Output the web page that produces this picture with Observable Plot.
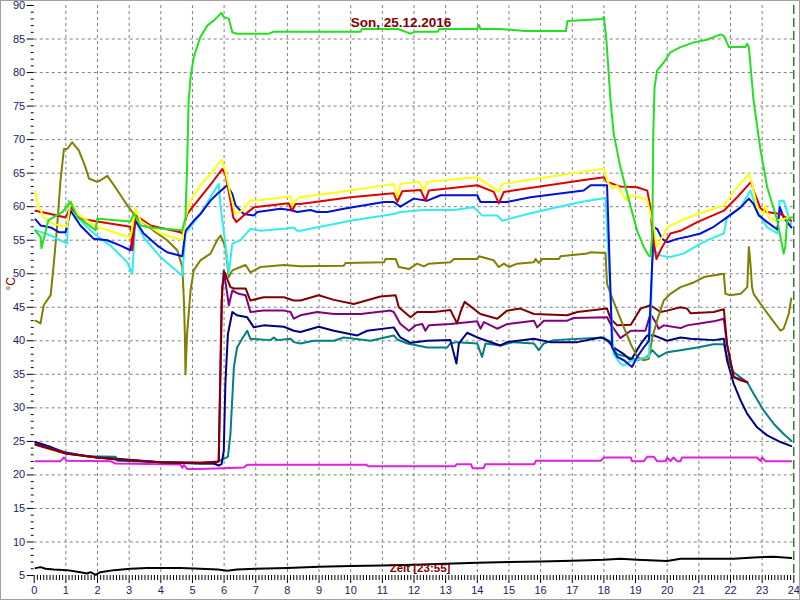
<!DOCTYPE html>
<html>
<head>
<meta charset="utf-8">
<script src="https://cdn.jsdelivr.net/npm/d3@7"></script>
<script src="https://cdn.jsdelivr.net/npm/@observablehq/plot@0.6"></script>
<style>
  html, body { margin: 0; padding: 0; background: #ffffff; }
  #wrap { position: relative; width: 800px; height: 600px; overflow: hidden; }
  #wrap svg { display: block; }
  #edge { position: absolute; left: 0; top: 0; width: 798px; height: 598px; border: 1px solid #a0a0a0; pointer-events: none; }
</style>
</head>
<body>
<div id="wrap"><div id="edge"></div></div>
<script>
// ---- text ----
const title = "Son, 25.12.2016";
const timeLabel = "Zeit [23:55]";
const unitLabel = "°C";

// ---- axis ticks ----
const hourTicks = d3.range(0, 25);
const tempTicks = d3.range(5, 91, 5);
const gridHours = d3.range(1, 24);
const gridTemps = d3.range(10, 90, 5);

// ---- series: [hour, °C] ----
const green = [[0.04,56.4],[0.2,55.5],[0.23,53.8],[0.45,58],[0.89,59.2],[1.15,60.7],[1.36,58.5],[1.94,56.5],[1.99,58.2],[3.04,57.8],[3.15,59],[3.36,57.2],[3.67,56.9],[4.68,56.5],[4.78,58.4],[4.83,65.9],[4.88,75.8],[4.94,79.3],[5.04,82.3],[5.25,85.3],[5.47,87],[5.73,88],[5.91,88.9],[5.99,88.3],[6.15,88],[6.26,86],[6.41,85.8],[7.41,85.8],[7.57,86.1],[10.31,86.1],[10.36,86.5],[11.5,86.5],[11.89,85.8],[12.05,86.1],[12.75,86.1],[12.8,86.5],[14.0,86.5],[14.05,87.1],[14.1,86.5],[14.73,86.5],[15.5,86.2],[16.8,86.2],[16.85,87.7],[17.95,88],[18.0,88.3],[18.08,84.8],[18.21,75.8],[18.31,70.9],[18.52,65.9],[18.74,61.9],[18.85,59.9],[19.05,56.4],[19.26,54],[19.42,52.7],[19.47,52.6],[19.53,56],[19.56,70.9],[19.6,77.8],[19.68,80.3],[19.89,81.5],[20.1,83],[20.42,83.8],[20.84,84.5],[21.26,84.9],[21.68,85.7],[21.79,85.5],[21.95,83.8],[22.47,83.8],[22.53,84.3],[22.58,83.8],[22.73,75.8],[22.95,68.4],[23.16,62.9],[23.48,57.9],[23.68,53],[23.73,54],[23.79,57.9],[23.9,58.4],[23.95,58.4]];

const yellow = [[0.04,62.2],[0.09,60.7],[0.3,58.4],[0.62,57.4],[1.04,57],[1.15,60.9],[1.36,58.9],[1.99,57],[3.04,55.4],[3.2,59.8],[3.36,57.9],[3.99,56],[4.68,55],[4.78,58.4],[4.94,60.9],[5.25,63.2],[5.67,65.4],[5.92,67],[6.01,65.9],[6.2,61.9],[6.36,58.9],[6.57,59.4],[6.83,60.9],[7.15,61],[7.89,61.4],[8.1,61.5],[8.15,60.2],[8.26,60.9],[8.41,61.4],[9.99,62.4],[11.36,63.4],[11.47,61.4],[11.57,63.4],[12.15,63.7],[12.31,62.4],[12.42,63.7],[13.15,64],[14.0,64.4],[14.31,63.4],[14.68,62.2],[14.79,63.4],[17.9,65.6],[18.0,65.6],[18.1,63.9],[18.26,62.7],[18.42,63.2],[18.58,61.9],[18.74,60.9],[18.85,61.7],[19.26,61.2],[19.37,60.9],[19.47,58.9],[19.58,56.9],[19.68,54],[19.79,55],[20.0,56.9],[20.42,57.9],[20.95,58.9],[21.47,59.7],[21.79,60.2],[22.21,62.9],[22.58,64.9],[22.68,63.4],[22.84,59.9],[23.05,58.9],[23.1,60.2],[23.21,58.4],[23.42,57.9],[23.7,58.2],[23.92,58.4]];

const red = [[0.04,59.4],[0.52,58.9],[0.99,58.4],[1.15,59.9],[1.46,58.2],[2.09,57.7],[3.04,57],[3.1,53.5],[3.2,58.7],[3.67,57.2],[4.62,56.2],[4.68,56],[4.83,58.9],[5.25,61.4],[5.67,63.9],[5.94,65.6],[6.04,64.9],[6.2,60.9],[6.29,58.4],[6.39,57.7],[6.62,58.7],[6.94,59.9],[8.04,60.5],[8.15,59.4],[8.26,60.4],[8.41,60.4],[9.99,61.4],[11.36,62],[11.47,60.7],[11.63,62.3],[12.21,62.5],[12.36,60.9],[12.47,62.4],[14.0,63.2],[14.52,62.2],[14.68,60.5],[14.84,62.2],[17.26,63.9],[18.0,64.4],[18.1,63.7],[18.52,63],[19.05,62.9],[19.37,62.4],[19.47,59.9],[19.53,56],[19.66,52.2],[19.84,54],[20.1,56],[20.42,56.4],[20.95,57.7],[21.79,59.4],[22.21,61.4],[22.65,63.7],[22.73,62.4],[22.95,59.7],[23.16,59.2],[23.58,58.9],[23.92,57.9]];

const blue = [[0.04,58.1],[0.2,57.2],[0.52,56.9],[0.78,56.2],[0.99,56.2],[1.15,59.4],[1.46,57.2],[1.88,55.2],[2.31,55],[2.73,54.2],[3.04,53.5],[3.2,57.9],[3.46,56],[3.89,54.2],[4.2,53.2],[4.68,52.6],[4.78,56.4],[5.04,57.9],[5.25,58.9],[5.57,60.9],[5.78,61.9],[6.1,63.2],[6.26,61.9],[6.36,60.2],[6.62,58.9],[6.94,58.7],[7.05,59.2],[7.78,59.7],[8.1,59.5],[8.31,59.2],[8.73,59.5],[8.94,59.2],[9.26,59.2],[9.78,59.7],[11.05,60.7],[11.36,60.7],[11.57,60],[11.99,61.2],[12.42,60.9],[12.84,61.7],[14.0,61.7],[14.1,60.7],[14.94,60.7],[15.68,61.4],[17.36,62.4],[17.58,63.2],[18.1,63.2],[18.15,56],[18.21,47],[18.26,39],[18.42,37.6],[18.63,37.1],[18.89,36.1],[19.05,37.6],[19.26,39],[19.42,40],[19.53,52],[19.58,56.9],[19.68,56.7],[19.84,55.2],[20.0,54.7],[20.32,55.2],[20.63,55.5],[21.05,56],[21.47,57],[21.89,58.4],[22.32,59.9],[22.58,61.2],[22.73,60.4],[22.89,58.7],[23.16,57.7],[23.48,56.6],[23.56,59.9],[23.68,58.4],[23.92,56.9]];

const cyan = [[0.04,56.5],[0.52,55.7],[1.04,54.5],[1.09,60.9],[1.36,58.4],[1.88,56],[2.41,54.2],[2.94,51.7],[3.1,50],[3.2,57.9],[3.46,55.4],[3.99,52.5],[4.68,49.7],[4.78,56],[5.25,58.9],[5.83,63.4],[5.89,59.9],[6.04,54.5],[6.15,50],[6.26,54.5],[6.52,55],[6.83,56.7],[7.15,56.4],[7.89,56.7],[8.2,56.9],[8.31,56.4],[8.41,56.4],[9.99,57.9],[11.36,58.9],[11.57,59.2],[12.31,59.5],[13.26,59.5],[13.89,59.9],[14.15,58.7],[14.63,58.7],[14.79,57.9],[15.58,58.9],[17.26,60.7],[18.05,61.3],[18.15,52],[18.26,42],[18.31,38],[18.52,36.6],[18.63,36.3],[18.85,37],[19.16,37.3],[19.42,37.6],[19.47,42],[19.53,52],[19.58,53.5],[19.79,52.7],[20.1,52.5],[20.52,53],[21.05,54.5],[21.37,55.2],[21.79,56],[21.89,58.4],[22.32,59.9],[22.63,62.4],[22.84,59.4],[23.16,56.9],[23.48,56],[23.55,60.9],[23.68,60.9],[23.84,58.4],[23.92,57.4]];

const olive = [[0.04,43],[0.2,42.6],[0.3,45.3],[0.52,46.8],[0.62,51.5],[0.73,57.4],[0.83,63.9],[0.94,68.6],[1.04,68.6],[1.2,69.6],[1.41,68.4],[1.62,65.9],[1.73,64.2],[1.99,63.7],[2.09,63.9],[2.31,64.6],[2.52,63.2],[2.73,61.7],[2.94,60.2],[3.15,58.9],[3.36,57.9],[3.78,56.4],[4.2,55],[4.52,53.5],[4.68,51],[4.73,46],[4.76,41],[4.78,35],[4.83,41],[4.94,47.5],[5.04,50.5],[5.25,52],[5.57,53],[5.78,55],[5.89,55.7],[6.04,54],[6.15,49.5],[6.26,50.5],[6.52,51],[6.68,51.3],[6.83,50.2],[7.15,51],[7.89,51.3],[8.41,51.1],[9.78,51.2],[9.84,51.6],[11.05,51.7],[11.1,52.2],[11.42,52.2],[11.52,51],[11.84,50.7],[12.1,51.5],[12.31,51.1],[12.47,51.5],[13.15,51.7],[13.26,52.2],[14.0,52.2],[14.05,52.6],[14.52,52],[14.68,51],[14.84,51.5],[15.0,51],[15.26,51.5],[15.79,51.7],[15.84,52.2],[15.94,51.6],[16.05,52.2],[16.58,52.2],[16.63,52.6],[17.47,53],[17.58,53.2],[18.05,53.1],[18.1,48.5],[18.21,47],[18.42,44.5],[18.63,42],[18.85,39.5],[19.05,37.6],[19.26,37.1],[19.42,37.3],[19.53,40.5],[19.68,43],[19.89,46],[20.1,47],[20.42,48],[20.84,48.7],[21.16,49.5],[21.79,50],[21.84,47],[22.0,46.8],[22.32,47],[22.53,48],[22.58,54],[22.63,51.5],[22.68,48],[22.73,47],[22.95,45.5],[23.26,43.5],[23.58,41.5],[23.68,41.8],[23.84,44],[23.92,46.3]];

const maroon = [[0.04,24.5],[0.99,23.2],[1.99,22.6],[2.62,22.3],[3.99,21.9],[5.25,21.8],[5.83,22],[5.94,48],[6.02,50.2],[6.2,48],[6.31,47.8],[6.68,47.8],[6.83,46],[7.25,46.5],[7.89,46.5],[8.2,46],[8.41,46],[8.99,46.8],[9.47,46.1],[10.1,45.5],[10.94,46.6],[11.42,46.8],[11.52,45],[11.89,43.5],[12.1,44.3],[12.63,44.3],[13.15,44.6],[13.36,42.6],[13.47,44.3],[13.6,45.8],[14.1,44],[14.63,43.3],[14.94,44.5],[15.36,44.8],[15.79,44],[16.84,43.8],[17.16,44.3],[18.1,44.8],[18.21,43.3],[18.42,42.3],[18.85,42.4],[19.16,44.8],[19.47,45.3],[19.79,44.3],[20.0,44.5],[20.42,45],[20.63,44.8],[20.74,44.1],[21.47,44.3],[21.79,44.7],[21.89,39.5],[22.1,34.6],[22.32,34.1],[22.53,33.8]];

const purple = [[0.04,24.6],[0.99,23.3],[1.99,22.6],[2.62,22.3],[3.99,21.9],[5.25,21.8],[5.78,21.9],[5.83,22.2],[5.92,46],[5.99,50.5],[6.15,45.3],[6.26,47.5],[6.46,47],[6.68,46.8],[6.83,44.3],[7.25,44.5],[7.89,44.5],[8.1,44.3],[8.2,43.3],[8.41,43.8],[8.94,44.3],[9.47,44],[10.31,44],[11.26,44.5],[11.36,44.3],[11.57,42.5],[11.84,41.5],[12.05,42.3],[12.26,42.5],[12.36,41.5],[12.47,42.3],[13.15,42.5],[14.0,42.9],[14.1,41.8],[14.21,42.8],[14.63,41.8],[14.94,42.5],[15.79,43],[15.89,42],[16.1,43],[16.84,43],[17.05,43.4],[18.1,43.5],[18.21,42.5],[18.52,40.4],[18.85,41.5],[19.31,41.5],[19.47,44],[19.63,42.8],[19.73,41.8],[19.89,42.3],[20.42,41.9],[20.63,42.3],[21.47,42.9],[21.79,43.3],[21.89,39.5],[22.1,34.6],[22.42,34.1],[22.53,33.8]];

const navy = [[0.04,24.9],[0.5,24.2],[0.99,23.2],[1.5,22.9],[1.99,22.6],[2.62,22.4],[3.99,21.9],[5.25,21.7],[5.67,21.7],[5.83,21.4],[5.92,21.6],[5.99,23.6],[6.04,33.6],[6.12,41],[6.26,44.3],[6.41,43.8],[6.73,43.5],[6.94,42],[7.25,42.3],[7.89,42.1],[8.2,41.5],[8.41,41.3],[8.99,42.1],[9.47,41.5],[10.21,40.8],[10.52,41.5],[11.36,42],[11.57,40.5],[11.89,39.7],[12.42,40],[13.15,40.1],[13.34,36.6],[13.42,39.6],[13.68,41.2],[14.0,40.5],[14.73,39.3],[14.94,39.8],[15.79,40.3],[16.31,39.8],[17.16,39.8],[17.9,40.5],[18.15,40],[18.31,39],[18.63,38],[18.85,37.1],[19.16,39.5],[19.37,40.8],[19.58,40.8],[20.0,40],[20.42,40.5],[20.74,40.3],[21.47,40.1],[21.79,40.3],[21.89,37.1],[22.1,33.6],[22.32,31.1],[22.53,29.1],[22.84,27.1],[23.16,25.9],[23.58,24.9],[23.92,24.3]];

const teal = [[0.04,24.8],[0.99,23.4],[1.62,22.8],[2.57,22.7],[2.62,22.1],[3.99,21.9],[5.25,21.7],[5.67,21.7],[5.99,22.4],[6.12,22.7],[6.2,26.1],[6.31,36.1],[6.41,39],[6.57,40.3],[6.73,41.5],[6.83,40.3],[7.47,40.1],[7.57,40.5],[7.68,40.1],[8.1,40.3],[8.2,39.8],[8.41,39.6],[8.83,40],[9.47,40],[9.78,40.5],[10.63,40],[11.36,40.8],[11.47,40.2],[11.79,39.6],[12.42,39],[13.05,39],[13.15,39.6],[13.36,39.8],[14.0,39.6],[14.15,37.6],[14.26,39.6],[14.73,39.3],[15.15,39.8],[15.79,39.6],[15.94,38.6],[16.1,39.6],[16.42,40.1],[18.0,40.5],[18.21,39.5],[18.42,38],[18.74,37.6],[19.05,37.1],[19.37,37.6],[19.53,38.6],[19.73,37.6],[20.0,38.3],[20.42,38.6],[20.95,39],[21.47,39.5],[21.79,39.5],[21.89,37.6],[22.1,35.3],[22.53,33.8],[22.73,32.1],[23.05,29.6],[23.37,27.6],[23.68,26.1],[23.92,25.1]];

const magenta = [[0.04,22.05],[0.83,22.05],[0.94,22.6],[1.04,22.1],[2.41,22.05],[2.57,21.7],[4.62,21.55],[4.68,21.05],[4.73,21.5],[4.83,20.9],[5.25,20.9],[6.62,21.1],[6.73,21.5],[10.5,21.5],[10.55,21.3],[13.3,21.3],[13.35,21.6],[13.8,21.6],[13.85,21.0],[14.2,21.0],[14.25,21.6],[15.8,21.6],[15.85,22.1],[17.9,22.1],[18.0,22.6],[18.85,22.6],[18.89,22.05],[19.26,22.05],[19.37,22.7],[19.58,22.7],[19.68,22.05],[19.95,22.05],[20.0,22.6],[20.1,22.05],[20.2,22.6],[20.32,22.05],[20.42,22.05],[20.47,22.6],[22.84,22.6],[22.95,22.05],[23.0,22.6],[23.1,22.05],[23.92,22.05]];

const black = [[0.04,6.1],[0.2,6.25],[0.36,6.0],[0.62,5.9],[1.04,5.8],[1.46,5.5],[1.67,5.3],[1.78,5.5],[1.94,5.1],[2.09,5.5],[2.52,5.8],[3.04,6.0],[3.57,6.1],[4.62,6.1],[5.25,6.0],[5.8,5.9],[6.1,5.7],[6.4,5.9],[7.0,6.0],[8.0,6.1],[9.0,6.3],[10.0,6.4],[11.0,6.5],[12.0,6.6],[13.0,6.75],[14.0,6.9],[15.0,7.0],[16.0,7.1],[17.0,7.2],[18.0,7.35],[18.52,7.5],[19.05,7.35],[20.0,7.15],[20.42,7.5],[22.1,7.5],[22.73,7.7],[23.37,7.8],[23.92,7.6]];

const seriesList = [
  {data: black, color: "#000000"},
  {data: magenta, color: "#e020e0"},
  {data: teal, color: "#008080"},
  {data: navy, color: "#000080"},
  {data: purple, color: "#800080"},
  {data: maroon, color: "#800000"},
  {data: olive, color: "#808000"},
  {data: cyan, color: "#30eeee"},
  {data: blue, color: "#0010d8"},
  {data: red, color: "#e00000"},
  {data: yellow, color: "#ffff10"},
  {data: green, color: "#22e022"}
];

const minorX = d3.range(0, 241).map(i => i / 10).filter((v, i) => i % 10 !== 0);
const minorY = d3.range(5, 91).filter(v => v % 5 !== 0);
const labelColor = "#1c1c64";

const chart = Plot.plot({
  width: 800,
  height: 600,
  marginLeft: 33.7,
  marginRight: 6.7,
  marginTop: 5,
  marginBottom: 25,
  x: {domain: [0, 24]},
  y: {domain: [5, 90]},
  style: {background: "#ffffff", fontFamily: "'Liberation Sans', Arial, sans-serif", fontSize: "11px"},
  marks: [
    Plot.gridX(gridHours, {stroke: "#808080", strokeOpacity: 1, strokeDasharray: "3,3"}),
    Plot.gridY(gridTemps, {stroke: "#808080", strokeOpacity: 1, strokeDasharray: "3,3"}),
    Plot.axisY(tempTicks, {tickSize: 7, tickPadding: 2, stroke: "#000000", fill: labelColor, fontSize: 11, label: null}),
    Plot.axisY(minorY, {tickSize: 3, text: null, stroke: "#000000", label: null}),
    Plot.axisX(hourTicks, {tickSize: 8, tickPadding: 3, stroke: "#000000", fill: labelColor, fontSize: 11, label: null}),
    Plot.axisX(minorX, {tickSize: 5, text: null, stroke: "#000000", label: null}),
    Plot.ruleX([24], {stroke: "#006000", strokeWidth: 1.2, strokeDasharray: "9,4"}),
    ...seriesList.map(s => Plot.line(s.data, {x: d => d[0], y: d => d[1], stroke: s.color, strokeWidth: 2, strokeLinejoin: "round"})),
    Plot.text([title], {frameAnchor: "top", dx: -13, dy: 12, fill: "#800000", fontSize: 13.5, fontWeight: "bold"}),
    Plot.text([timeLabel], {frameAnchor: "bottom", dx: 6, dy: -4, fill: "#800000", fontSize: 11.5, fontWeight: "bold"}),
    Plot.text([unitLabel], {frameAnchor: "left", dx: -23, rotate: -90, fill: "#800000", fontSize: 12})
  ]
});

document.getElementById("wrap").prepend(chart);
</script>
</body>
</html>
